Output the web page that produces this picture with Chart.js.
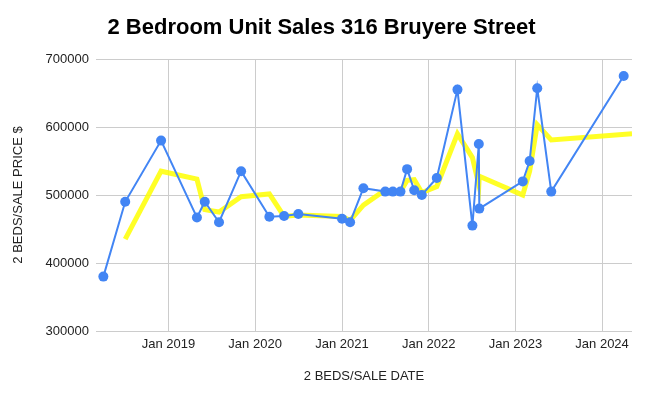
<!DOCTYPE html>
<html>
<head>
<meta charset="utf-8">
<script src="https://cdn.jsdelivr.net/npm/chart.js@4.4.1/dist/chart.umd.min.js"></script>
<style>
  html, body { margin: 0; padding: 0; background: #ffffff; }
  #wrap { width: 651px; height: 399px; }
</style>
</head>
<body>
<div id="wrap"><canvas id="c" width="651" height="399"></canvas></div>
<script>
// ---- Data ----
const chartTitle = '2 Bedroom Unit Sales 316 Bruyere Street';
const xAxisTitle = '2 BEDS/SALE DATE';
const yAxisTitle = '2 BEDS/SALE PRICE $';

const saleDates = [
  '2018-04-02', '2018-07-03', '2018-12-01', '2019-05-01', '2019-06-03',
  '2019-08-02', '2019-11-03', '2020-03-01', '2020-05-02', '2020-07-01',
  '2021-01-01', '2021-02-04', '2021-04-01', '2021-07-02', '2021-08-03',
  '2021-09-04', '2021-10-02', '2021-11-01', '2021-12-03', '2022-02-04',
  '2022-05-02', '2022-07-04', '2022-07-31', '2022-08-02', '2023-02-01',
  '2023-03-02', '2023-04-03', '2023-06-01', '2024-04-01'
];
const salePrices = [
  380000, 490000, 580000, 467000, 490000,
  460000, 535000, 468000, 469000, 472000,
  465000, 460000, 510000, 505000, 505000,
  505000, 538000, 507000, 500000, 525000,
  655000, 455000, 575000, 480000, 520000,
  550000, 657000, 505000, 675000
];

// Yellow trend line (moving average)
const trendDates = [
  '2018-07-03', '2018-12-01', '2019-05-01', '2019-06-03', '2019-08-02',
  '2019-11-03', '2020-03-01', '2020-05-02', '2020-07-01', '2021-01-01',
  '2021-02-04', '2021-04-01', '2021-07-02', '2021-08-03', '2021-09-04',
  '2021-10-02', '2021-11-01', '2021-12-03', '2022-02-04', '2022-05-02',
  '2022-07-04', '2022-07-31', '2022-08-02', '2023-02-01', '2023-03-02',
  '2023-04-03', '2023-06-01', '2024-05-06'
];
const trendPrices = [
  435000, 535000, 523500, 478500, 475000,
  497500, 501500, 468500, 470500, 468500,
  462500, 485000, 507500, 505000, 505000,
  521500, 522500, 503500, 512500, 590000,
  555000, 515000, 527500, 500000, 535000,
  603500, 581000, 590000
];

const xTickDates = ['2019-01-01', '2020-01-01', '2021-01-01', '2022-01-01', '2023-01-01', '2024-01-01'];
const xTickLabels = ['Jan 2019', 'Jan 2020', 'Jan 2021', 'Jan 2022', 'Jan 2023', 'Jan 2024'];
const yTickValues = [300000, 400000, 500000, 600000, 700000];
const xRange = ['2018-03-02', '2024-05-06'];

// ---- Build ----
const toTime = s => Date.parse(s + 'T00:00:00Z');
const salePoints = saleDates.map((d, i) => ({ x: toTime(d), y: salePrices[i] }));
const trendPoints = trendDates.map((d, i) => ({ x: toTime(d), y: trendPrices[i] }));
const xTickTimes = xTickDates.map(toTime);

const FONT = 'Liberation Sans, Arial, Helvetica, sans-serif';

new Chart(document.getElementById('c'), {
  type: 'line',
  data: {
    datasets: [
      {
        label: 'Sales',
        data: salePoints,
        borderColor: '#4285F4',
        backgroundColor: '#4285F4',
        borderWidth: 2,
        pointRadius: 5,
        pointBorderWidth: 0,
        pointBackgroundColor: '#4285F4',
        tension: 0,
        order: 1
      },
      {
        label: 'Trend',
        data: trendPoints,
        borderColor: 'rgba(255,255,0,0.85)',
        borderWidth: 5,
        pointRadius: 0,
        tension: 0,
        fill: false,
        order: 2
      }
    ]
  },
  options: {
    responsive: false,
    animation: false,
    devicePixelRatio: 1,
    layout: { padding: { left: 11, right: 19, top: 0, bottom: 0 } },
    plugins: {
      legend: { display: false },
      tooltip: { enabled: false },
      title: {
        display: true,
        text: chartTitle,
        color: '#000000',
        font: { family: FONT, size: 22, weight: 'bold' },
        padding: { top: 15, bottom: 17.6 }
      }
    },
    scales: {
      x: {
        type: 'linear',
        min: toTime(xRange[0]),
        max: toTime(xRange[1]),
        afterBuildTicks: scale => { scale.ticks = xTickTimes.map(v => ({ value: v })); },
        afterFit: scale => { scale.height = 68; },
        grid: { color: '#cccccc', lineWidth: 1, drawTicks: false },
        border: { display: false },
        ticks: {
          autoSkip: false,
          maxRotation: 0,
          padding: 6,
          color: '#222222',
          font: { family: FONT, size: 13 },
          callback: (v) => { const i = xTickTimes.indexOf(v); return i >= 0 ? xTickLabels[i] : ''; }
        },
        title: {
          display: true,
          text: xAxisTitle,
          color: '#222222',
          font: { family: FONT, size: 13 },
          padding: { top: 0, bottom: 14.5 }
        }
      },
      y: {
        type: 'linear',
        min: yTickValues[0],
        max: yTickValues[yTickValues.length - 1],
        afterBuildTicks: scale => { scale.ticks = yTickValues.map(v => ({ value: v })); },
        afterFit: scale => { scale.width = 85; },
        grid: { color: '#cccccc', lineWidth: 1, drawTicks: false },
        border: { display: false },
        ticks: {
          padding: 7,
          color: '#222222',
          font: { family: FONT, size: 13 },
          callback: v => String(v)
        },
        title: {
          display: true,
          text: yAxisTitle,
          color: '#222222',
          font: { family: FONT, size: 13 },
          padding: { top: 0, bottom: 0 }
        }
      }
    }
  }
});
</script>
</body>
</html>
